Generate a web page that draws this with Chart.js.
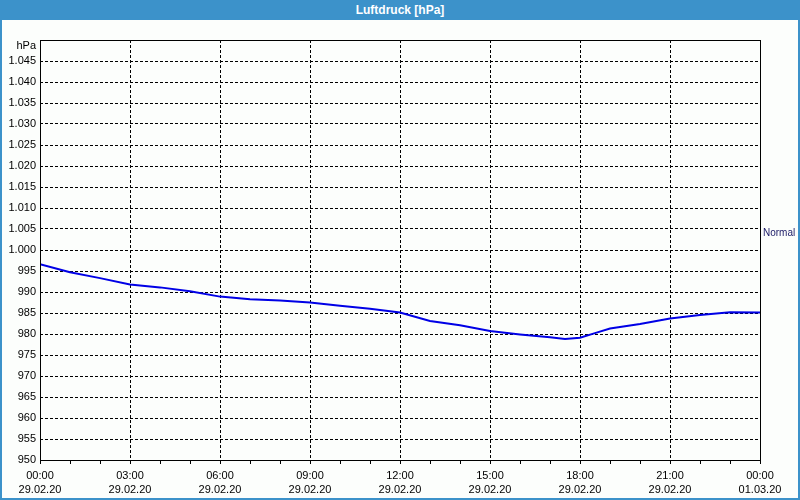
<!DOCTYPE html>
<html>
<head>
<meta charset="utf-8">
<script src="https://cdn.jsdelivr.net/npm/chart.js@4/dist/chart.umd.min.js"></script>
<style>
    body { margin: 0; background: #fcfefc; }
    #frame { position: relative; width: 800px; height: 500px; }
    #chart { position: absolute; left: 0; top: 0; }
    #title {
        position: absolute; left: 0; top: 0; width: 800px; height: 20px;
        background: #3c92ca; color: #fff; text-align: center;
        font: bold 12px "Liberation Sans", Arial, sans-serif; line-height: 20px;
    }
    #border {
        position: absolute; left: 0; top: 0; width: 800px; height: 500px;
        box-sizing: border-box; border: 2px solid #3c92ca; border-top: none;
        pointer-events: none;
    }
</style>
</head>
<body>
<div id="frame">
    <canvas id="chart" width="800" height="500"></canvas>
    <div id="title">Luftdruck [hPa]</div>
    <div id="border"></div>
</div>
<script>
// Stunden ab 29.02.20 00:00
const hours = [0, 1, 2, 3, 4, 5, 6, 7, 8, 9, 10, 11, 12, 13, 14, 15, 16, 17, 17.5, 18, 18.5, 19, 20, 21, 22, 23, 24];
// Luftdruck in hPa
const pressure = [996.6, 994.7, 993.3, 991.8, 991.1, 990.2, 988.9, 988.3, 988.0, 987.5, 986.7, 986.0, 985.1,
    983.1, 982.1, 980.7, 979.9, 979.2, 978.8, 979.1, 980.2, 981.3, 982.4, 983.7, 984.5, 985.2, 985.1];
const timeLabels = ['00:00', '03:00', '06:00', '09:00', '12:00', '15:00', '18:00', '21:00', '00:00'];
const dateLabels = ['29.02.20', '29.02.20', '29.02.20', '29.02.20', '29.02.20', '29.02.20', '29.02.20', '29.02.20', '01.03.20'];
const normalValue = 1004;

const FONT = { family: '"Liberation Sans", Arial, sans-serif', size: 11 };

// Rahmen, Einheit und "Normal"-Beschriftung
const framePlugin = {
    id: 'frame',
    afterDraw(chart) {
        const { ctx, chartArea: a, scales } = chart;
        ctx.save();
        ctx.strokeStyle = '#000';
        ctx.lineWidth = 1;
        ctx.strokeRect(a.left + 0.5, a.top + 0.5, a.right - a.left, a.bottom - a.top);
        ctx.font = '11px ' + FONT.family;
        ctx.fillStyle = '#000';
        ctx.textAlign = 'right';
        ctx.textBaseline = 'middle';
        ctx.fillText('hPa', a.left - 4, a.top + 6);
        ctx.font = '10px ' + FONT.family;
        ctx.fillStyle = '#1a1a66';
        ctx.textAlign = 'left';
        ctx.fillText('Normal', a.right + 3, scales.y.getPixelForValue(normalValue));
        ctx.restore();
    }
};

new Chart(document.getElementById('chart'), {
    type: 'line',
    data: {
        datasets: [{
            data: hours.map((h, i) => ({ x: h, y: pressure[i] })),
            borderColor: '#0000e6',
            borderWidth: 2,
            pointRadius: 0,
            tension: 0,
            fill: false
        }]
    },
    options: {
        responsive: false,
        animation: false,
        layout: { padding: { top: 40, right: 40, left: 0, bottom: 0 } },
        plugins: { legend: { display: false }, tooltip: { enabled: false } },
        scales: {
            x: {
                type: 'linear',
                min: 0,
                max: 24,
                afterFit: s => { s.height = 40; },
                ticks: {
                    stepSize: 1,
                    autoSkip: false,
                    maxRotation: 0,
                    padding: 4,
                    color: '#000',
                    font: { ...FONT, lineHeight: 1.36 },
                    callback: v => v % 3 === 0 ? [timeLabels[v / 3], dateLabels[v / 3]] : ''
                },
                grid: {
                    color: c => c.tick && c.tick.value % 3 === 0 ? '#000' : 'rgba(0,0,0,0)',
                    tickColor: '#000',
                    tickLength: 4,
                    tickBorderDash: [],
                    lineWidth: 1
                },
                border: { display: false, dash: [3, 2] }
            },
            y: {
                min: 950,
                max: 1050,
                afterFit: s => { s.width = 40; },
                ticks: {
                    stepSize: 5,
                    padding: 4,
                    color: '#000',
                    font: FONT,
                    callback: v => v >= 1050 ? '' : v >= 1000 ? '1.' + String(v - 1000).padStart(3, '0') : String(v)
                },
                grid: { color: '#000', drawTicks: false, lineWidth: 1 },
                border: { display: false, dash: [3, 2] }
            }
        }
    },
    plugins: [framePlugin]
});
</script>
</body>
</html>
